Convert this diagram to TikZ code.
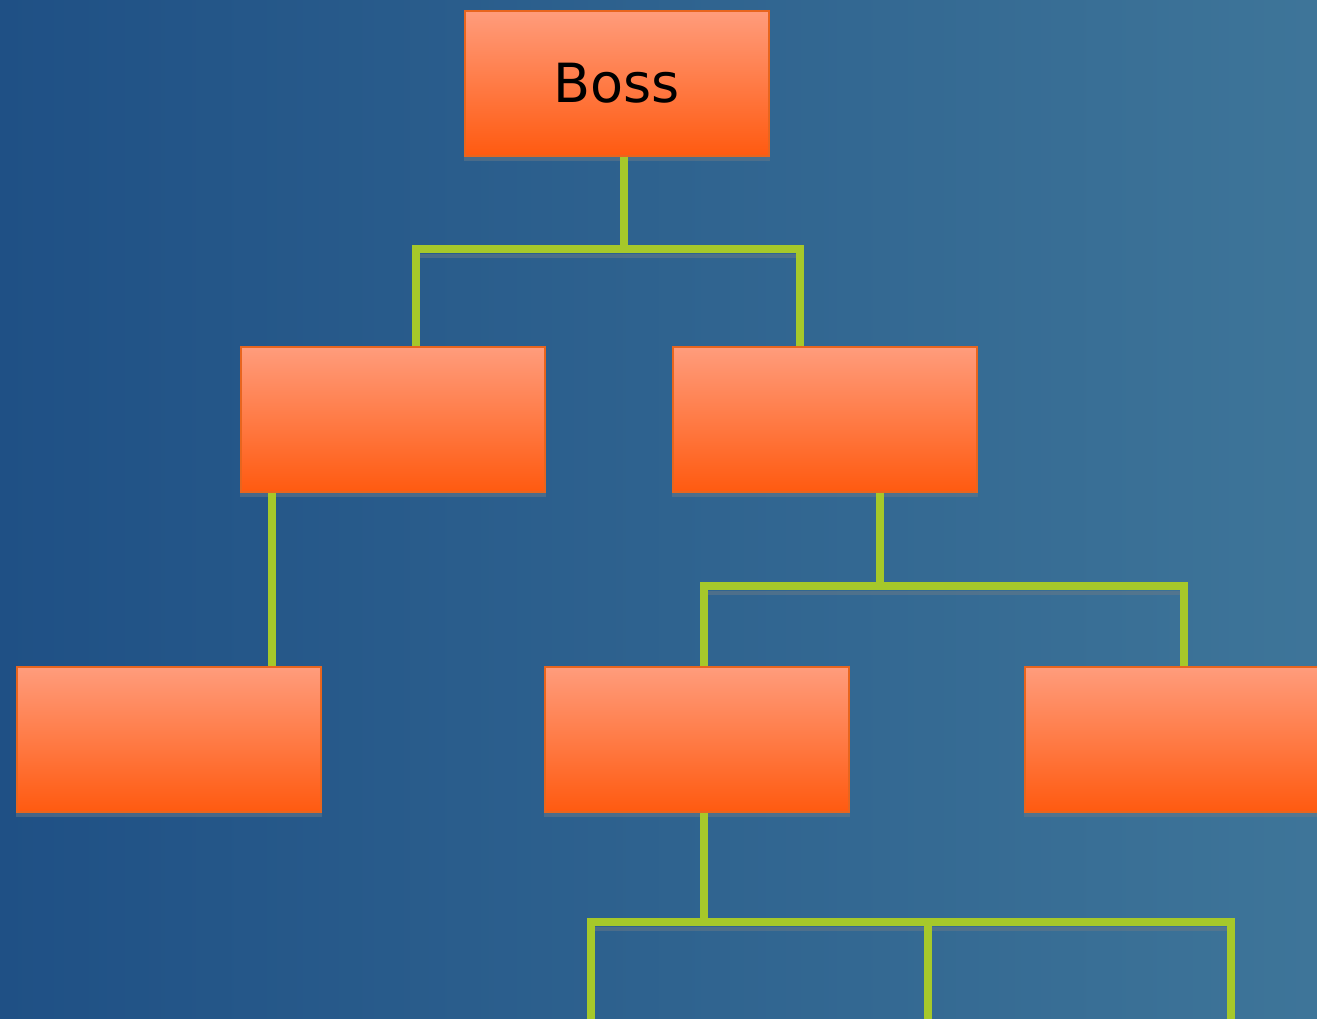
\documentclass[tikz,border=0pt]{standalone}
\usepackage{fontspec}
\setmainfont{DejaVu Sans}
\definecolor{bgleft}{HTML}{1F5085}
\definecolor{bgright}{HTML}{3E7599}
\definecolor{boxtop}{HTML}{FF9C7C}
\definecolor{boxmid}{HTML}{FF8B62}
\definecolor{boxbot}{HTML}{FF5A10}
\definecolor{boxborder}{HTML}{E8651E}
\definecolor{linkc}{HTML}{A6C82A}
\definecolor{shadowc}{HTML}{6A7A88}
\begin{document}
\begin{tikzpicture}[x=0.5pt,y=-0.5pt,
  orgbox/.style={draw=boxborder, line width=0.8pt, top color=boxtop, middle color=boxmid, bottom color=boxbot,
    minimum width=152pt, minimum height=72.5pt, inner sep=0pt, anchor=north west,
    font=\fontsize{27}{30}\selectfont},
  link/.style={draw=linkc, line width=4.2pt, line join=miter, line cap=butt},
  boxshadow/.style={fill=shadowc, opacity=0.5}]
\shade[left color=bgleft, right color=bgright] (0,0) rectangle (1317,1018);
\useasboundingbox (0,0) rectangle (1317,1018);
% boxes
\node[orgbox] (boss) at (464,10) {Boss};
\node[orgbox] (l2a) at (240,346) {};
\node[orgbox] (l2b) at (672,346) {};
\node[orgbox] (l3a) at (16,666) {};
\node[orgbox] (l3b) at (544,666) {};
\node[orgbox] (l3c) at (1024,666) {};
% shadows
\foreach \b in {boss,l2a,l2b,l3a,l3b,l3c}{
  \fill[boxshadow] ([yshift=-0.4pt]\b.south west) rectangle ([yshift=-2pt]\b.south east);
}
% junction coordinates
\coordinate (j1) at (624,249);
\coordinate (j1a) at (416,249);
\coordinate (j1b) at (800,249);
\coordinate (j2) at (272,666);
\coordinate (j3) at (880,586);
\coordinate (j3a) at (704,586);
\coordinate (j3b) at (1184,586);
\coordinate (j4) at (704,922);
\coordinate (j4a) at (591,922);
\coordinate (j4b) at (928,922);
\coordinate (j4c) at (1231,922);
\coordinate (e4a) at (591,1030);
\coordinate (e4b) at (928,1030);
\coordinate (e4c) at (1231,1030);
% shadows of horizontal bars
\fill[boxshadow] (420,254) rectangle (796,257.5);
\fill[boxshadow] (708,591) rectangle (1180,594.5);
\fill[boxshadow] (595,927) rectangle (1227,930.5);
% connectors
\draw[link] (boss.south -| j1) -- (j1);
\draw[link] (l2a.north -| j1a) -- (j1a) -- (j1b) -- (l2b.north -| j1b);
\draw[link] (l2a.south -| j2) -- (j2);
\draw[link] (l2b.south -| j3) -- (j3);
\draw[link] (l3b.north -| j3a) -- (j3a) -- (j3b) -- (l3c.north -| j3b);
\draw[link] (l3b.south -| j4) -- (j4);
\draw[link] (e4a) -- (j4a) -- (j4c) -- (e4c);
\draw[link] (j4b) -- (e4b);
\end{tikzpicture}
\end{document}
